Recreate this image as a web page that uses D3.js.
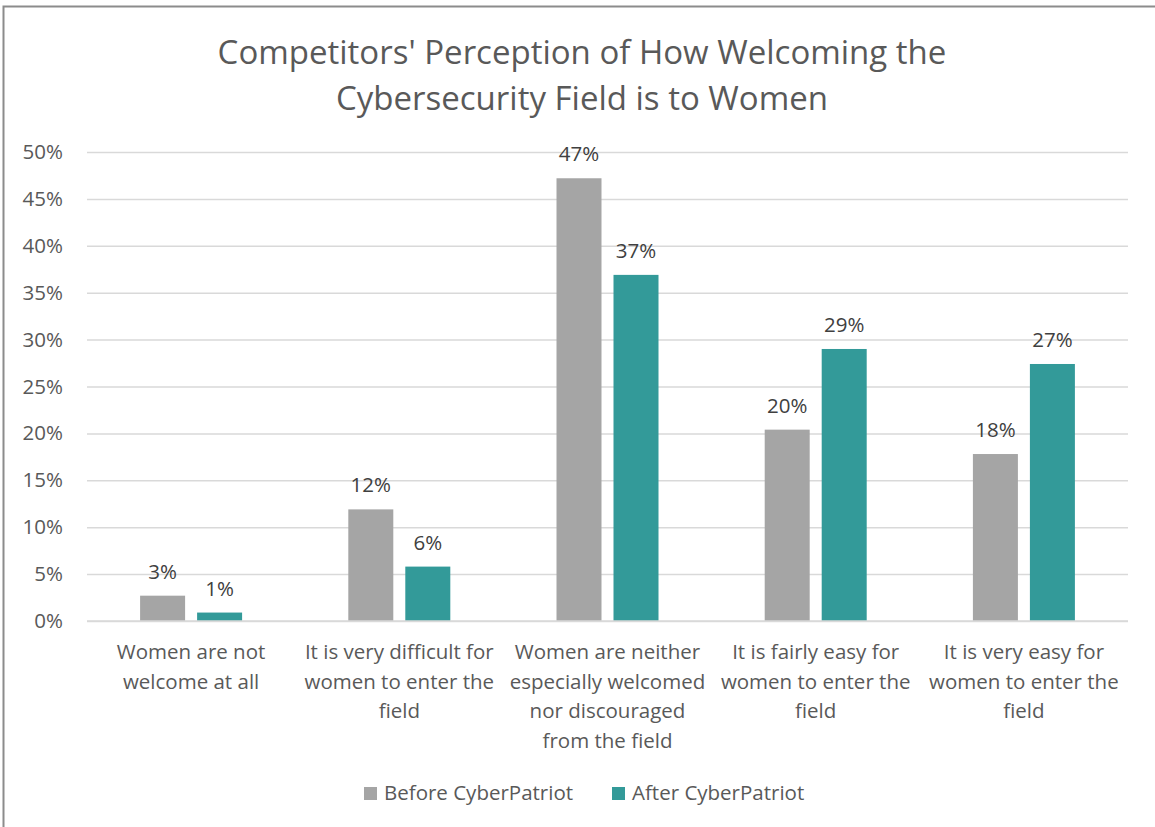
<!DOCTYPE html>
<html><head><meta charset="utf-8">
<script src="https://cdn.jsdelivr.net/npm/d3@7"></script>
<style>body{margin:0;background:#fff}svg{display:block;font-family:"Open Sans",sans-serif}</style>
</head><body><svg id="c" width="1155" height="827"></svg>
<script>
const categories = [
  ["Women are not","welcome at all"],
  ["It is very difficult for","women to enter the","field"],
  ["Women are neither","especially welcomed","nor discouraged","from the field"],
  ["It is fairly easy for","women to enter the","field"],
  ["It is very easy for","women to enter the","field"]
];
const seriesNames = ["Before CyberPatriot","After CyberPatriot"];
const before = [2.7, 11.9, 47.2, 20.4, 17.8];
const after = [0.9, 5.8, 36.9, 29.0, 27.4];
const yTicks = [0,5,10,15,20,25,30,35,40,45,50];
const colors = ["#A5A5A5","#339A99"];

const svg = d3.select("#c");
const textColor = "#595959";
const ff = "'Open Sans',sans-serif";
const fs = 20.5;
// border
svg.append("path").attr("d","M3.5,827 V6.5 H1155").attr("fill","none").attr("stroke","#8c8c8c").attr("stroke-width",2);

// title
const title = svg.append("text").attr("x",582).attr("text-anchor","middle").attr("fill",textColor).attr("font-size",33);
title.append("tspan").attr("x",582).attr("y",64).text("Competitors' Perception of How Welcoming the");
title.append("tspan").attr("x",582).attr("y",110).text("Cybersecurity Field is to Women");

const x0 = 87, x1 = 1128;
const y = d3.scaleLinear().domain([0,50]).range([621,152]);
const x = d3.scaleBand().domain(d3.range(categories.length)).range([x0,x1]);

// gridlines
const yAxis = d3.axisLeft(y).tickValues(yTicks).tickFormat(d=>d+"%").tickSize(-(x1-x0)).tickPadding(24);
const gy = svg.append("g").attr("transform",`translate(${x0},0)`).call(yAxis);
gy.select(".domain").remove();
gy.selectAll(".tick line").attr("stroke","#D9D9D9").attr("stroke-width",1.5);
gy.selectAll(".tick text").attr("fill",textColor).attr("font-size",fs).attr("font-family",ff);

const bw = 45, gap = 12;
const data = [before, after];
data.forEach((vals,si)=>{
  const g = svg.append("g");
  g.selectAll("rect").data(vals).join("rect")
    .attr("x",(d,i)=>x(i)+x.bandwidth()/2 + (si===0 ? -gap/2-bw : gap/2))
    .attr("width",bw)
    .attr("y",d=>y(d)).attr("height",d=>y(0)-y(d))
    .attr("fill",colors[si]);
  g.selectAll("text").data(vals).join("text")
    .attr("x",(d,i)=>x(i)+x.bandwidth()/2 + (si===0 ? -gap/2-bw/2 : gap/2+bw/2))
    .attr("y",d=>y(d)-17)
    .attr("text-anchor","middle").attr("fill","#404040").attr("font-size",fs)
    .text(d=>Math.round(d)+"%");
});
// baseline
svg.append("line").attr("x1",x0).attr("x2",x1).attr("y1",y(0)).attr("y2",y(0)).attr("stroke","#D9D9D9").attr("stroke-width",1.5);

// category labels
categories.forEach((lines,i)=>{
  const t = svg.append("text").attr("text-anchor","middle").attr("fill",textColor).attr("font-size",fs);
  lines.forEach((l,j)=>t.append("tspan").attr("x",x(i)+x.bandwidth()/2).attr("y",659+j*29.6).text(l));
});

// legend
const leg = [{x:364},{x:612}];
seriesNames.forEach((n,i)=>{
  svg.append("rect").attr("x",leg[i].x).attr("y",787).attr("width",13).attr("height",13).attr("fill",colors[i]);
  svg.append("text").attr("x",leg[i].x+20).attr("y",800).attr("fill",textColor).attr("font-size",fs).text(n);
});
</script></body></html>
